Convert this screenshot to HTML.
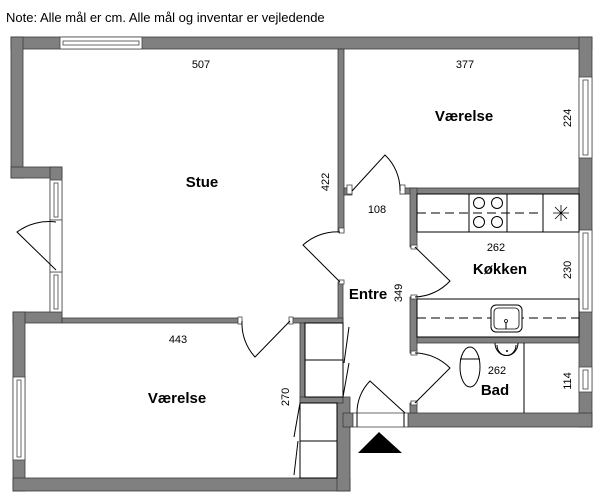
<!DOCTYPE html>
<html><head><meta charset="utf-8"><style>
html,body{margin:0;padding:0;background:#fff;}
svg{display:block;}
text{font-family:"Liberation Sans",Arial,sans-serif;fill:#000;}
.w{fill:#808080;stroke:#3a3a3a;stroke-width:0.8;}
.l{fill:none;stroke:#000;stroke-width:1;}
.win{fill:#fff;stroke:#444;stroke-width:0.8;}
.lab{font-size:11px;}
.big{font-size:15px;font-weight:bold;}
</style></head><body>
<svg width="600" height="503" viewBox="0 0 600 503" xmlns="http://www.w3.org/2000/svg">
<text x="6" y="22" style="font-size:13px">Note: Alle mål er cm. Alle mål og inventar er vejledende</text>

<!-- outer walls -->
<rect class="w" x="11" y="37" width="581" height="12"/>
<rect class="w" x="11" y="37" width="12" height="141"/>
<rect class="w" x="11" y="167" width="51" height="11"/>
<rect class="w" x="50" y="167" width="12" height="155"/>
<rect class="w" x="579" y="37" width="13" height="390"/>
<rect class="w" x="13" y="312" width="49" height="11"/>
<rect class="w" x="13" y="312" width="12" height="179"/>
<rect class="w" x="13" y="478" width="337" height="13"/>
<rect class="w" x="337" y="397" width="13" height="94"/>
<rect class="w" x="408" y="413" width="184" height="14"/>
<rect class="w" x="343" y="413" width="10" height="14"/>

<!-- interior walls -->
<rect class="w" x="338" y="49" width="6" height="183"/>
<rect class="w" x="338" y="282" width="5" height="41"/>
<rect class="w" x="344" y="188" width="8" height="7"/>
<rect class="w" x="400" y="188" width="179" height="6"/>
<rect class="w" x="410" y="188" width="7" height="59"/>
<rect class="w" x="410" y="297" width="7" height="56"/>
<rect class="w" x="410" y="403" width="7" height="10"/>
<rect class="w" x="417" y="337" width="162" height="6"/>
<rect class="w" x="62" y="318" width="178" height="5"/>
<rect class="w" x="290" y="318" width="53" height="5"/>
<rect class="w" x="300" y="323" width="5" height="80"/>
<rect class="w" x="300" y="397" width="43" height="6"/>

<!-- door stubs -->
<rect class="win" x="347" y="185" width="5" height="9"/>
<rect class="win" x="400" y="185" width="5" height="9"/>
<rect class="win" x="339" y="228" width="5" height="5"/>
<rect class="win" x="339" y="280" width="5" height="4"/>
<rect class="win" x="411" y="245" width="6" height="4"/>
<rect class="win" x="411" y="295" width="6" height="4"/>
<rect class="win" x="411" y="351" width="6" height="4"/>
<rect class="win" x="411" y="401" width="6" height="4"/>
<rect class="win" x="238" y="317" width="4" height="7"/>
<rect class="win" x="289" y="317" width="4" height="7"/>

<!-- windows -->
<rect class="win" x="60" y="37" width="82" height="12"/><rect class="win" x="63" y="41" width="76" height="4"/>
<rect class="win" x="50" y="180" width="12" height="40"/><rect class="win" x="54" y="183" width="4" height="34"/>
<rect class="win" x="50" y="272" width="12" height="40"/><rect class="win" x="54" y="275" width="4" height="34"/>
<rect class="win" x="13" y="377" width="12" height="83"/><rect class="win" x="17" y="380" width="4" height="77"/>
<rect class="win" x="579" y="77" width="13" height="81"/><rect class="win" x="583" y="80" width="5" height="75"/>
<rect class="win" x="579" y="230" width="13" height="82"/><rect class="win" x="583" y="233" width="5" height="76"/>
<rect class="win" x="579" y="367" width="13" height="25"/><rect class="win" x="583" y="370" width="5" height="19"/>
<rect class="win" x="50" y="220" width="12" height="52" style="fill:#fff"/>
<rect class="win" x="353" y="413" width="55" height="14"/>
<line class="l" x1="357" y1="413" x2="357" y2="427"/><line class="l" x1="404" y1="413" x2="404" y2="427"/>

<!-- doors -->
<path class="l" d="M56 270 L17 232 A54 54 0 0 1 56 222"/>
<path class="l" d="M352 191 L385 155 A48 48 0 0 1 400 191"/>
<path class="l" d="M340 282 L303 245 A50 50 0 0 1 340 232"/>
<path class="l" d="M415 247 L450 281 A50 50 0 0 1 415 297"/>
<path class="l" d="M415 403 L450 368 A50 50 0 0 0 415 353"/>
<path class="l" d="M290 321 L255 357 A50 50 0 0 1 242 321"/>
<path class="l" d="M405 413 L370 381 A45 45 0 0 0 357 413"/>
<polygon points="379,432 402,453 358,453" fill="#000"/>

<!-- closets -->
<rect class="l" x="305" y="323" width="38" height="74"/>
<line class="l" x1="305" y1="360" x2="343" y2="360"/>
<rect class="l" x="300" y="403" width="37" height="75"/>
<line class="l" x1="300" y1="441" x2="337" y2="441"/>
<line class="l" x1="349" y1="327" x2="344" y2="363"/>
<line class="l" x1="349" y1="363" x2="343" y2="397"/>
<line class="l" x1="300" y1="403" x2="294" y2="437"/>
<line class="l" x1="298" y1="441" x2="294" y2="475"/>

<!-- kitchen -->
<rect class="l" x="417" y="194" width="162" height="38"/>
<line class="l" x1="469" y1="194" x2="469" y2="232"/>
<line class="l" x1="507" y1="194" x2="507" y2="232"/>
<line class="l" x1="543" y1="194" x2="543" y2="232"/>
<line class="l" x1="417" y1="213" x2="543" y2="213" stroke-dasharray="9,5"/>
<circle class="l" cx="479" cy="203" r="5.5" style="fill:#fff"/><circle class="l" cx="497" cy="203" r="5.5"/>
<circle class="l" cx="479" cy="222" r="5.5" style="fill:#fff"/><circle class="l" cx="497" cy="222" r="5.5"/>
<path class="l" d="M561 205 V221 M553 213 H569 M555 207 L567 219 M567 207 L555 219" style="stroke-width:0.8"/>
<rect class="l" x="417" y="299" width="162" height="38"/>
<line class="l" x1="417" y1="318" x2="579" y2="318" stroke-dasharray="9,5"/>
<rect x="491" y="305" width="31" height="27" rx="5" fill="#fff" stroke="#000" stroke-width="1"/>
<rect x="494" y="308" width="25" height="21" rx="4" fill="none" stroke="#000" stroke-width="0.8"/>
<circle cx="506" cy="321" r="1.5" fill="none" stroke="#000" stroke-width="0.8"/>
<line class="l" x1="506" y1="322" x2="506" y2="329"/>

<!-- bath -->
<line class="l" x1="524" y1="343" x2="524" y2="413"/>
<ellipse class="l" cx="470" cy="367" rx="10" ry="20"/>
<line class="l" x1="460" y1="359" x2="480" y2="359"/>
<path class="l" d="M495 343 A11 12 0 0 0 518 343"/>
<path class="l" d="M497 345 A9 10 0 0 0 516 345"/>
<circle cx="507" cy="351" r="1" fill="#000"/>

<!-- labels -->
<text class="lab" x="201" y="68" text-anchor="middle">507</text>
<text class="lab" x="465" y="68" text-anchor="middle">377</text>
<text class="big" x="464" y="121" text-anchor="middle">Værelse</text>
<text class="big" x="202" y="187" text-anchor="middle">Stue</text>
<text class="lab" x="377" y="213" text-anchor="middle">108</text>
<text class="lab" x="496" y="251" text-anchor="middle">262</text>
<text class="big" x="500" y="274" text-anchor="middle">Køkken</text>
<text class="big" x="368" y="299" text-anchor="middle">Entre</text>
<text class="lab" x="178" y="343" text-anchor="middle">443</text>
<text class="big" x="177" y="403" text-anchor="middle">Værelse</text>
<text class="lab" x="497" y="374" text-anchor="middle">262</text>
<text class="big" x="495" y="395" text-anchor="middle">Bad</text>
<text class="lab" transform="translate(571,118) rotate(-90)" text-anchor="middle">224</text>
<text class="lab" transform="translate(329,182) rotate(-90)" text-anchor="middle">422</text>
<text class="lab" transform="translate(571,270) rotate(-90)" text-anchor="middle">230</text>
<text class="lab" transform="translate(402,293) rotate(-90)" text-anchor="middle">349</text>
<text class="lab" transform="translate(289,397) rotate(-90)" text-anchor="middle">270</text>
<text class="lab" transform="translate(571,381) rotate(-90)" text-anchor="middle">114</text>
</svg>
</body></html>
